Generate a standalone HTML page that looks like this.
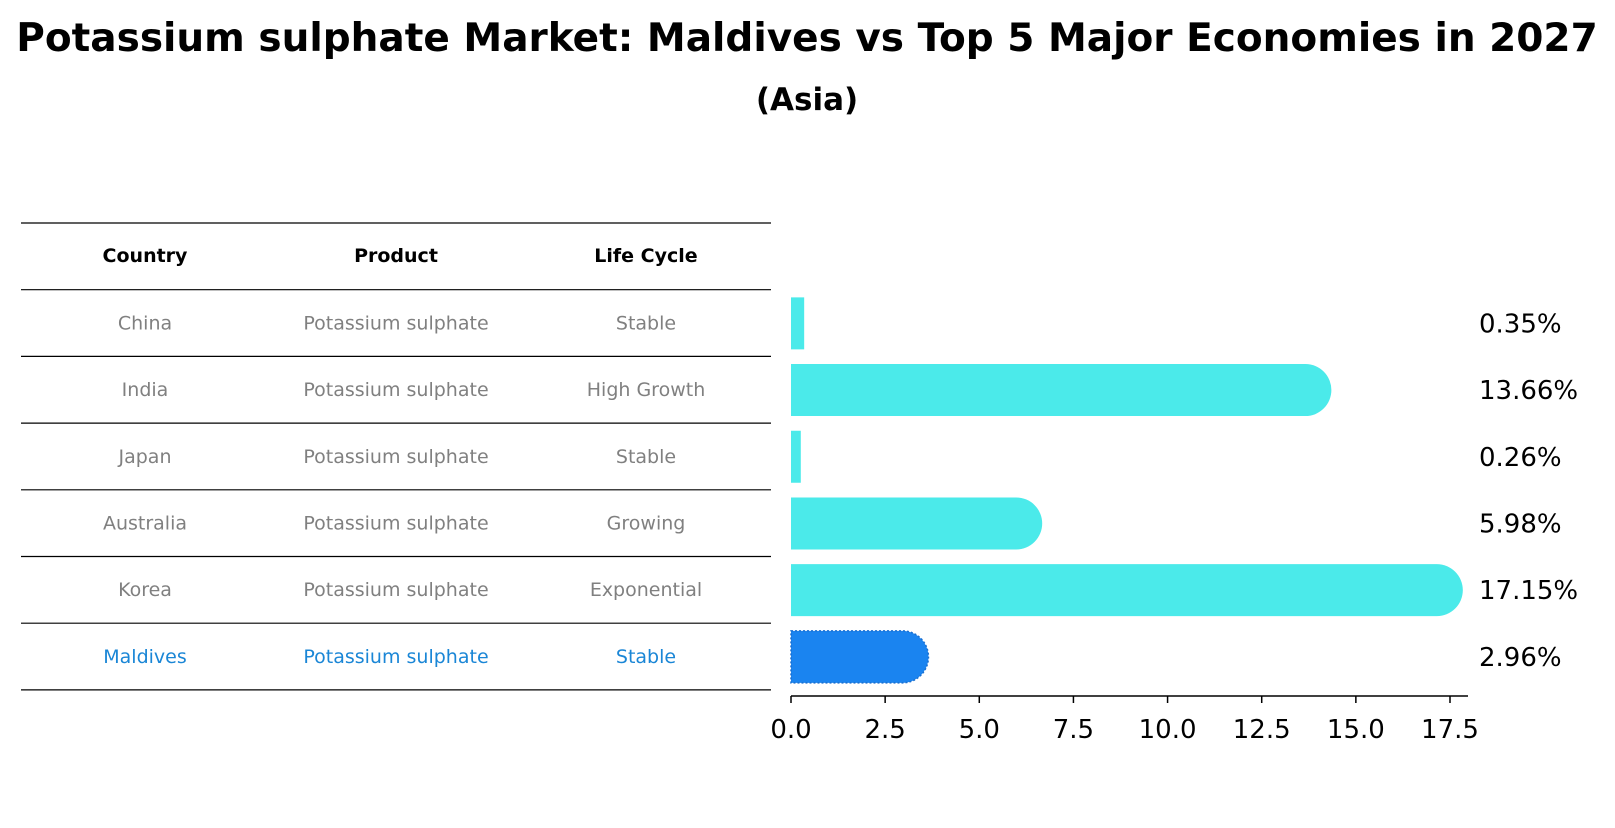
<!DOCTYPE html>
<html><head><meta charset="utf-8"><style>
body{margin:0;background:#fff;font-family:"Liberation Sans","DejaVu Sans",sans-serif;}
svg text{font-family:"DejaVu Sans","Liberation Sans",sans-serif;}
</style></head><body>
<svg id="c" width="1615" height="823" xmlns="http://www.w3.org/2000/svg">
<text x="807" y="51" text-anchor="middle" font-size="39" font-weight="bold">Potassium sulphate Market: Maldives vs Top 5 Major Economies in 2027</text>
<text x="807" y="110" text-anchor="middle" font-size="31" font-weight="bold">(Asia)</text>
<g id="tbl"></g>
<g id="bars"></g>
</svg>
<script>
const countries=["China","India","Japan","Australia","Korea","Maldives"];
const products=["Potassium sulphate","Potassium sulphate","Potassium sulphate","Potassium sulphate","Potassium sulphate","Potassium sulphate"];
const lifecycles=["Stable","High Growth","Stable","Growing","Exponential","Stable"];
const values=[0.35,13.66,0.26,5.98,17.15,2.96];
const valueLabels=["0.35%","13.66%","0.26%","5.98%","17.15%","2.96%"];
const ticks=[0,2.5,5,7.5,10,12.5,15,17.5];
const tickLabels=["0.0","2.5","5.0","7.5","10.0","12.5","15.0","17.5"];
const NS="http://www.w3.org/2000/svg";
function mk(t,a,p){const e=document.createElementNS(NS,t);for(const k in a)e.setAttribute(k,a[k]);p.appendChild(e);return e;}
const X0=791,SC=(1450-791)/17.5;
const xs=v=>X0+v*SC;
const rowTop=290,rowH=66.7;
const yc=i=>rowTop+rowH*(i+0.5);
const tbl=document.getElementById('tbl');
for(let i=0;i<8;i++){const y=223+i*rowH;const l=mk('line',{x1:21,x2:771,y1:y,y2:y,stroke:'#000','stroke-width':1.2},tbl);

}
const colX=[145,396,646];
["Country","Product","Life Cycle"].forEach((h,j)=>{const t=mk('text',{x:colX[j],y:262,'text-anchor':'middle','font-size':19,'font-weight':'bold'},tbl);t.textContent=h;

});
countries.forEach((c,i)=>{const col=i===5?'#1a86d6':'#808080';[c,products[i],lifecycles[i]].forEach((s,j)=>{const t=mk('text',{x:colX[j],y:yc(i)+6,'text-anchor':'middle','font-size':19,fill:col},tbl);t.textContent=s;

});});
const g=document.getElementById('bars');
const bh=52,r=26;
values.forEach((v,i)=>{const x1=xs(v),top=yc(i)-bh/2;const col=i===5?'#1a84f0':'#4beaea';
let d='M'+X0+','+top+'H'+x1;
if(v>1){d+='A'+r+','+r+' 0 0 1 '+x1+','+(top+bh);}else{d+='V'+(top+bh);}
d+='H'+X0+'Z';
const p=mk('path',{d:d,fill:col},g);
if(i===5){p.setAttribute('stroke','#1a6fd0');p.setAttribute('stroke-dasharray','2,2');p.setAttribute('stroke-width','1.5');}


const t=mk('text',{x:1479,y:yc(i)+9,'font-size':26},g);t.textContent=valueLabels[i];

});
const ax=mk('line',{x1:X0,x2:1468,y1:696,y2:696,stroke:'#000','stroke-width':1.5},g);


ticks.forEach((v,i)=>{const tk=mk('line',{x1:xs(v),x2:xs(v),y1:696,y2:703,stroke:'#000','stroke-width':1.5},g);


const t=mk('text',{x:xs(v),y:738,'text-anchor':'middle','font-size':26},g);t.textContent=tickLabels[i];

});
</script>
</body></html>
